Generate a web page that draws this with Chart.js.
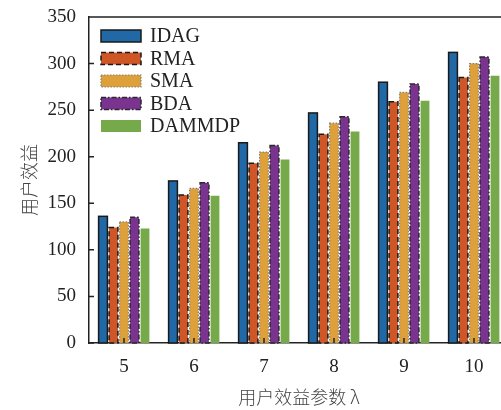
<!DOCTYPE html>
<html>
<head>
<meta charset="utf-8">
<script src="https://cdn.jsdelivr.net/npm/chart.js@4"></script>
<style>
  html, body { margin: 0; padding: 0; background: #fff; overflow: hidden; }
  canvas { display: block; }
</style>
</head>
<body>
<canvas id="myChart" width="520" height="410"></canvas>
<script>
'use strict';

const labels = ['5', '6', '7', '8', '9', '10'];
const idag = [136, 174, 215, 247, 280, 312];
const rma = [124, 159, 193, 224, 259, 285];
const sma = [130, 166, 205, 236, 269, 300];
const bda = [135, 172, 212, 243, 278, 307];
const dammdp = [123, 158, 197, 227, 260, 287];

const serif = 'Liberation Serif';
const cjk = 'Noto Sans CJK SC';

// dashed / dotted bar outlines (Chart.js bars have no borderDash)
const outlinePlugin = {
    id: 'outline',
    afterDatasetsDraw(chart) {
        const ctx = chart.ctx;
        chart.data.datasets.forEach((ds, i) => {
            if (!ds.outline) return;
            const meta = chart.getDatasetMeta(i);
            meta.data.forEach(bar => {
                const p = bar.getProps(['x', 'y', 'base', 'width'], true);
                ctx.save();
                ctx.strokeStyle = ds.outline.color;
                ctx.lineWidth = ds.outline.width;
                ctx.setLineDash(ds.outline.dash);
                ctx.strokeRect(p.x - p.width / 2, p.y, p.width, p.base - p.y);
                ctx.restore();
            });
        });
    },
    afterDraw(chart) {
        const ctx = chart.ctx;
        const a = chart.chartArea;
        const x = chart.scales.x;
        const y = chart.scales.y;
        ctx.save();
        ctx.strokeStyle = '#222';
        ctx.lineWidth = 1.5;
        ctx.beginPath();
        ctx.moveTo(a.left, a.top);
        ctx.lineTo(a.right, a.top);
        y.ticks.forEach(t => {
            const py = y.getPixelForValue(t.value);
            ctx.moveTo(a.left, py);
            ctx.lineTo(a.left + 5, py);
        });
        labels.forEach((l, i) => {
            const px = x.getPixelForValue(i);
            ctx.moveTo(px, a.bottom);
            ctx.lineTo(px, a.bottom - 5);
        });
        ctx.stroke();

        // legend inside the plot, top left
        ctx.font = '20px "' + serif + '"';
        ctx.textBaseline = 'middle';
        chart.data.datasets.forEach((ds, i) => {
            const ly = a.top + 19 + i * 22.5;
            const lx = a.left + 12;
            ctx.fillStyle = ds.backgroundColor;
            ctx.fillRect(lx, ly - 6, 40, 12);
            if (ds.outline) {
                ctx.strokeStyle = ds.outline.color;
                ctx.lineWidth = ds.outline.width;
                ctx.setLineDash(ds.outline.dash);
                ctx.strokeRect(lx, ly - 6, 40, 12);
                ctx.setLineDash([]);
            }
            ctx.fillStyle = '#222';
            ctx.fillText(ds.label, lx + 49, ly + 1);
        });
        ctx.restore();
    }
};

const ctx = document.getElementById('myChart').getContext('2d');

new Chart(ctx, {
    type: 'bar',
    data: {
        labels: labels,
        datasets: [
            {
                label: 'IDAG',
                data: idag,
                backgroundColor: '#2169a6',
                outline: { color: '#1a1a1a', width: 1.5, dash: [] }
            },
            {
                label: 'RMA',
                data: rma,
                backgroundColor: '#cf5627',
                outline: { color: '#1a1a1a', width: 1.5, dash: [5, 3] }
            },
            {
                label: 'SMA',
                data: sma,
                backgroundColor: '#dda03b',
                outline: { color: '#8a8070', width: 1.2, dash: [1.5, 1.5] }
            },
            {
                label: 'BDA',
                data: bda,
                backgroundColor: '#7a338f',
                outline: { color: '#2a2a2a', width: 1.5, dash: [5, 2, 1.5, 2] }
            },
            {
                label: 'DAMMDP',
                data: dammdp,
                backgroundColor: '#76a94a'
            }
        ]
    },
    options: {
        responsive: false,
        animation: false,
        layout: { padding: { top: 17, right: 11, left: 0, bottom: 0 } },
        datasets: {
            bar: { categoryPercentage: 0.75, barPercentage: 0.84, borderWidth: 0 }
        },
        plugins: {
            legend: { display: false },
            tooltip: { enabled: false }
        },
        scales: {
            x: {
                grid: { display: false, drawTicks: false },
                border: { color: '#222', width: 1.5 },
                ticks: { color: '#222', padding: 13, font: { family: serif, size: 19 } },
                title: {
                    display: true,
                    text: '用户效益参数 λ',
                    color: '#444',
                    font: { family: cjk, size: 18, weight: 300 },
                    padding: { top: 0, bottom: 2 }
                },
                afterFit: s => { s.height = 67; s.paddingLeft = 0; s.paddingRight = 0; }
            },
            y: {
                min: 0,
                max: 350,
                grid: { display: false, drawTicks: false },
                border: { color: '#222', width: 1.5 },
                ticks: { stepSize: 50, color: '#222', padding: 13, font: { family: serif, size: 19 } },
                title: {
                    display: true,
                    text: '用户效益',
                    color: '#444',
                    font: { family: cjk, size: 18, weight: 300 },
                    padding: { top: 18, bottom: 0 }
                },
                afterFit: s => { s.width = 89; s.paddingTop = 0; s.paddingBottom = 0; }
            }
        }
    },
    plugins: [outlinePlugin]
});
</script>
</body>
</html>
